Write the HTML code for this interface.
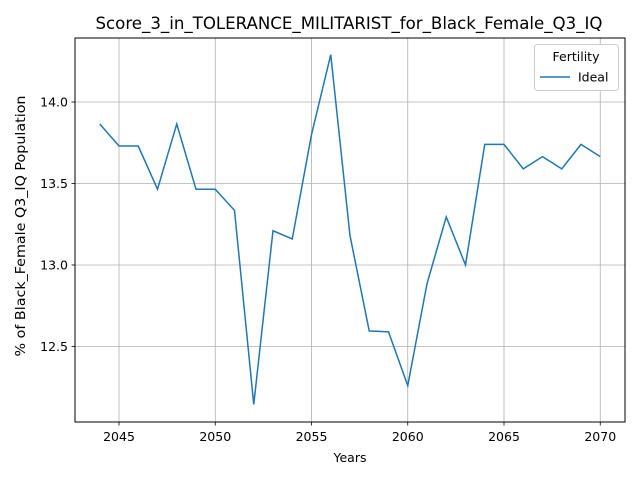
<!DOCTYPE html>
<html><head><meta charset="utf-8"><style>
body{margin:0;background:#fff;}
svg{display:block;font-family:"DejaVu Sans","Liberation Sans",sans-serif;}
</style></head><body>
<svg id="chart" width="640" height="480">
<rect x="0" y="0" width="640" height="480" fill="#fff"/>
<text x="349" y="29" text-anchor="middle" font-size="16.4" textLength="507" lengthAdjust="spacingAndGlyphs">Score_3_in_TOLERANCE_MILITARIST_for_Black_Female_Q3_IQ</text>
<g id="grid"></g>
<g id="xticks"></g>
<g id="yticks"></g>
<path id="line" fill="none" stroke="#1f77b4" stroke-width="1.5"/>
<rect x="75" y="38" width="550" height="384" fill="none" stroke="#000" stroke-width="1"/>
<text x="350" y="462" text-anchor="middle" font-size="12.5">Years</text>
<text transform="translate(25,226) rotate(-90)" text-anchor="middle" font-size="13" textLength="261" lengthAdjust="spacingAndGlyphs">% of Black_Female Q3_IQ Population</text>
<g>
<rect x="534.5" y="44.5" width="84" height="46" rx="3" fill="#fff" stroke="#ccc"/>
<text x="576" y="61" text-anchor="middle" font-size="12.5">Fertility</text>
<line x1="540" y1="77" x2="570" y2="77" stroke="#1f77b4" stroke-width="1.5"/>
<text x="578" y="81.5" font-size="12.5">Ideal</text>
</g>
</svg>
<script>
const years=[2044,2045,2046,2047,2048,2049,2050,2051,2052,2053,2054,2055,2056,2057,2058,2059,2060,2061,2062,2063,2064,2065,2066,2067,2068,2069,2070];
const ideal=[13.865,13.73,13.73,13.465,13.865,13.465,13.465,13.335,12.145,13.21,13.16,13.80,14.29,13.18,12.595,12.59,12.26,12.885,13.295,13.0,13.74,13.74,13.59,13.665,13.59,13.74,13.665];
const xTicks=[2045,2050,2055,2060,2065,2070];
const yTicks=[12.5,13.0,13.5,14.0];
const NS="http://www.w3.org/2000/svg";
function xs(v){return 119+(v-2045)*19.25;}
function ys(v){return 102+(14.0-v)*163;}
const grid=document.getElementById('grid'),xt=document.getElementById('xticks'),yt=document.getElementById('yticks');
function mk(tag,attrs,parent){const e=document.createElementNS(NS,tag);for(const k in attrs)e.setAttribute(k,attrs[k]);parent.appendChild(e);return e;}
xTicks.forEach(t=>{const x=xs(t);
 const g=mk('line',{x1:x,y1:38,x2:x,y2:422,stroke:'#b0b0b0','stroke-width':0.8},grid);
 
 
 const tk=mk('line',{x1:x,y1:422,x2:x,y2:425.5,stroke:'#000','stroke-width':0.8},xt);
 
 
 const l=mk('text',{x:x,y:441,'text-anchor':'middle','font-size':12.5},xt);l.textContent=t;
 
 
});
yTicks.forEach(t=>{const y=ys(t);
 const g=mk('line',{x1:75,y1:y,x2:625,y2:y,stroke:'#b0b0b0','stroke-width':0.8},grid);
 
 
 const tk=mk('line',{x1:71.5,y1:y,x2:75,y2:y,stroke:'#000','stroke-width':0.8},yt);
 
 
 const l=mk('text',{x:68,y:y+4.5,'text-anchor':'end','font-size':12.5},yt);l.textContent=t.toFixed(1);
 
 
});
document.getElementById('line').setAttribute('d',years.map((yr,i)=>(i?'L':'M')+xs(yr).toFixed(2)+','+ys(ideal[i]).toFixed(2)).join(' '));
</script>
</body></html>
